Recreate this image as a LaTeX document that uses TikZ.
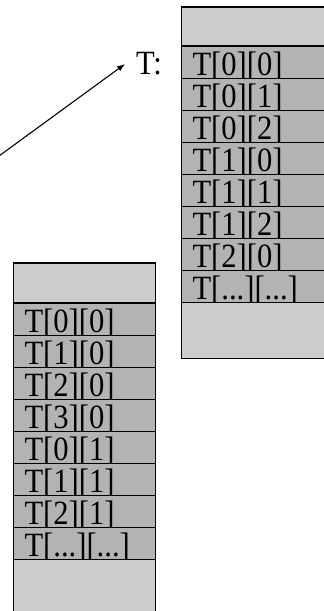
\documentclass[tikz,border=0pt]{standalone}
\usepackage{fontspec}
\setmainfont{Liberation Serif}
\newfontfamily\cellfont[FakeStretch=0.9]{Liberation Serif}
\usetikzlibrary{arrows.meta,positioning}
\definecolor{cellgray}{HTML}{B3B3B3}
\definecolor{padgray}{HTML}{CCCCCC}
\newcommand\tdots{...}

\begin{document}
\begin{tikzpicture}[
  x=1pt, y=-1pt,
  node distance=0pt,
  pad/.style={rectangle, draw=black, line width=1.2pt, fill=padgray, outer sep=0pt, inner sep=0pt, minimum width=142pt},
  cell/.style={rectangle, draw=black, line width=1.2pt, fill=cellgray, outer sep=0pt, minimum width=142pt, minimum height=32.1pt, inner xsep=11pt, inner ysep=0pt, text height=26pt, text depth=0pt, text width=120pt, align=left, font=\cellfont\fontsize{34}{34}\selectfont},
  arrow/.style={-{Latex[length=8pt, width=6pt]}, line width=1.1pt, draw=black}
]
\useasboundingbox (0,0) rectangle (324,611);
\clip (0,0) rectangle (324,611);

% row-major layout (runs past the right edge)
\node[pad, minimum width=148pt, minimum height=39pt, anchor=north west] (rm0) at (181.5,7) {};
\foreach \lbl [count=\i, evaluate=\i as \prev using int(\i-1)] in {T[0][0], T[0][1], T[0][2], T[1][0], T[1][1], T[1][2], T[2][0], T[\tdots][\tdots]}
  \node[cell, minimum width=148pt, text width=126pt, below=of rm\prev] (rm\i) {\lbl};
\node[pad, minimum width=148pt, minimum height=56pt, below=of rm8] (rm9) {};

% column-major layout
\node[pad, minimum height=40pt, anchor=north west] (cm0) at (13.5,263) {};
\foreach \lbl [count=\i, evaluate=\i as \prev using int(\i-1)] in {T[0][0], T[1][0], T[2][0], T[3][0], T[0][1], T[1][1], T[2][1], T[\tdots][\tdots]}
  \node[cell, below=of cm\prev] (cm\i) {\lbl};
\node[pad, minimum height=66pt, below=of cm8] (cm9) {};

% pointer to the array
\node[anchor=west, inner sep=0pt, inner xsep=11pt, font=\cellfont\fontsize{34}{34}\selectfont] (tname) at (125,64) {T:};
\coordinate (src) at (-12,164);
\draw[arrow] (src) -- (tname.west);
\end{tikzpicture}
\end{document}
